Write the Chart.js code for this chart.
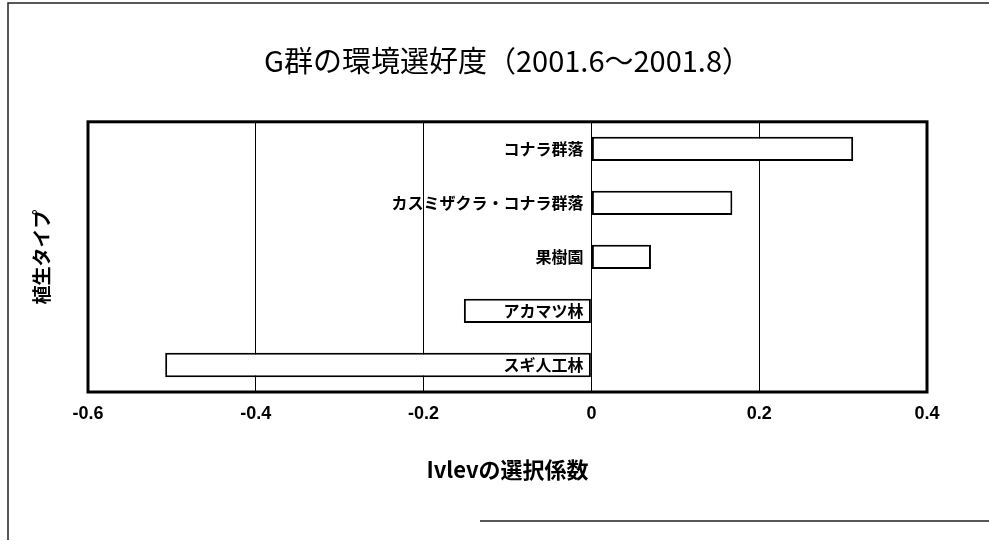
<!DOCTYPE html>
<html><head><meta charset="utf-8">
<script src="https://cdn.jsdelivr.net/npm/chart.js@4.4.0/dist/chart.umd.min.js"></script>
<style>html,body{margin:0;padding:0;background:#fff}#c{display:block}</style>
</head><body>
<canvas id="c" width="989" height="541"></canvas>
<script>
const chartTitle = 'G群の環境選好度（2001.6～2001.8）';
const categories = ['コナラ群落', 'カスミザクラ・コナラ群落', '果樹園', 'アカマツ林', 'スギ人工林'];
const ivlevValues = [0.312, 0.168, 0.071, -0.152, -0.508];
const xTicks = [-0.6, -0.4, -0.2, 0, 0.2, 0.4];
const xTitle = 'Ivlevの選択係数';
const yTitle = '植生タイプ';

const JP = '"Noto Sans CJK JP", "Noto Sans", sans-serif';

const framePlugin = {
  id: 'frame',
  beforeDraw(chart) {
    const ctx = chart.ctx;
    ctx.save();
    ctx.fillStyle = '#fff';
    ctx.fillRect(0, 0, chart.width, chart.height);
    ctx.strokeStyle = '#222';
    ctx.lineWidth = 1.5;
    ctx.beginPath();
    ctx.moveTo(8, 540); ctx.lineTo(8, 3); ctx.lineTo(989, 3);
    ctx.moveTo(480, 521); ctx.lineTo(989, 521);
    ctx.stroke();
    ctx.restore();
  },
  afterDatasetsDraw(chart) {
    // category labels drawn next to the zero axis, on top of bars
    const ctx = chart.ctx, ys = chart.scales.y, xs = chart.scales.x;
    const x0 = xs.getPixelForValue(0);
    ctx.save();
    ctx.strokeStyle = '#000';
    ctx.lineWidth = 1;
    ctx.beginPath();
    ctx.moveTo(Math.round(x0) + 0.5, chart.chartArea.top);
    ctx.lineTo(Math.round(x0) + 0.5, chart.chartArea.bottom);
    ctx.stroke();
    ctx.fillStyle = '#000';
    ctx.font = 'bold 16px ' + JP;
    ctx.textAlign = 'right';
    ctx.textBaseline = 'middle';
    categories.forEach((lab, i) => {
      ctx.fillText(lab, x0 - 8, ys.getPixelForValue(i));
    });
    ctx.restore();
  },
  afterDraw(chart) {
    const a = chart.chartArea, ctx = chart.ctx;
    ctx.save();
    ctx.strokeStyle = '#000';
    ctx.lineWidth = 3;
    ctx.strokeRect(a.left, a.top, a.right - a.left, a.bottom - a.top);
    ctx.restore();
  }
};

new Chart(document.getElementById('c'), {
  type: 'bar',
  data: {
    labels: categories,
    datasets: [{
      data: ivlevValues,
      backgroundColor: '#fff',
      borderColor: '#000',
      borderWidth: 2,
      borderSkipped: false,
      barPercentage: 0.45,
      categoryPercentage: 1.0
    }]
  },
  options: {
    indexAxis: 'y',
    responsive: false,
    animation: false,
    layout: { padding: { top: 0, right: 62, bottom: 0, left: 0 } },
    plugins: {
      legend: { display: false },
      tooltip: { enabled: false },
      title: {
        display: true, text: chartTitle, fullSize: false, color: '#000',
        font: { family: JP, size: 29, weight: 'normal', lineHeight: 1.2 },
        padding: { top: 44, bottom: 43 }
      }
    },
    scales: {
      x: {
        type: 'linear', min: -0.6, max: 0.4,
        afterBuildTicks(scale) { scale.ticks = xTicks.map(v => ({ value: v })); },
        afterFit(scale) { scale.height = 149; },
        grid: { color: '#000', lineWidth: 1, drawTicks: false },
        border: { display: false },
        ticks: {
          color: '#000', padding: 11,
          font: { family: '"Liberation Sans", Arial, sans-serif', size: 18, weight: 'bold' },
          callback: v => (v === 0 ? '0' : String(Math.round(v * 10) / 10))
        },
        title: {
          display: true, text: xTitle, color: '#000',
          font: { family: JP, size: 22, weight: 'bold', lineHeight: 1.2 },
          padding: { top: 0, bottom: 58 }
        }
      },
      y: {
        type: 'category',
        position: 'left',
        afterFit(scale) { scale.width = 88; },
        grid: { display: false, drawTicks: false },
        border: { display: false },
        ticks: { display: false },
        title: {
          display: true, text: yTitle, color: '#000',
          font: { family: JP, size: 19, weight: 'bold', lineHeight: 1.2 },
          padding: { top: 30, bottom: 0 }
        }
      }
    }
  },
  plugins: [framePlugin]
});
</script>
</body></html>
